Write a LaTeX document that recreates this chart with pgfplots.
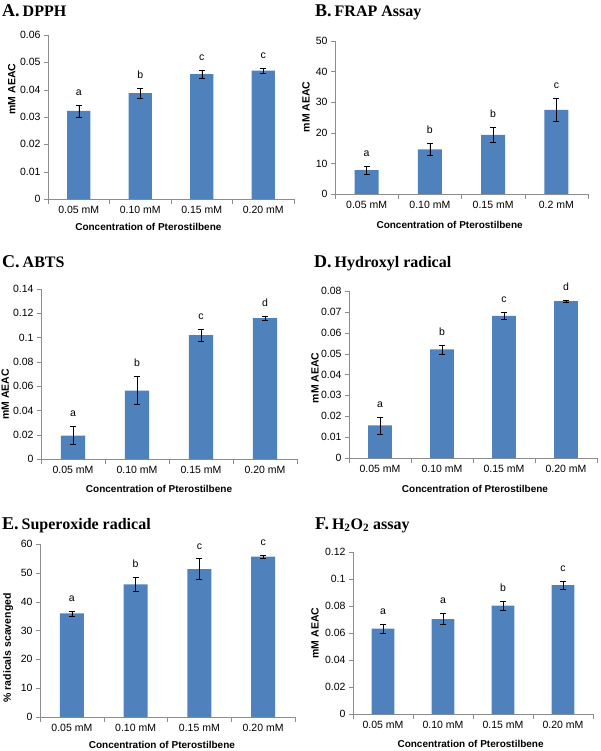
\documentclass[border=0pt]{standalone}
\usepackage{pgfplots}
\pgfplotsset{compat=1.18}
\usepackage{fontspec}
\setmainfont{Liberation Sans}
\newfontfamily\titlefont{Liberation Serif}
\definecolor{barblue}{HTML}{4F81BD}
\definecolor{axgray}{HTML}{8C8C8C}

\pgfplotsset{
  exc/.style={
    scale only axis, anchor=south west,
    ybar, bar width=0.38,
    xmin=-0.5, xmax=3.5, ymin=0, enlarge y limits=false,
    axis x line=bottom, axis y line=left,
    axis line style={-, draw=axgray},
    xtick={0,1,2,3},
    major x tick style={draw=none},
    minor xtick={-0.5,0.5,1.5,2.5,3.5},
    minor x tick style={draw=axgray},
    y tick style={draw=axgray},
    minor tick length=5pt, major tick length=4pt,
    tick align=outside,
    tick label style={font=\fontsize{10.5}{12}\selectfont},
    yticklabel style={/pgf/number format/fixed, /pgf/number format/precision=2,
      /pgf/number format/assume math mode=true},
    scaled y ticks=false,
    xlabel={Concentration of Pterostilbene},
    xlabel style={font=\bfseries\fontsize{10}{12}\selectfont, anchor=center},
    ylabel style={font=\bfseries\fontsize{10.5}{12}\selectfont, anchor=center},
    nodes near coords, point meta=explicit symbolic,
    nodes near coords style={anchor=south, yshift=6pt, font=\fontsize{10.5}{12}\selectfont,
      shift={(axis direction cs:0,\err)}},
  },
  bars/.style={fill=barblue, draw=none,
    visualization depends on={\thisrow{e}\as\err},
    error bars/.cd, y dir=both, y explicit,
    error bar style={black, line width=0.5pt},
    error mark options={rotate=90, mark size=3pt, black, line width=0.5pt}},
}

\newcommand{\ptitle}[2]{{\titlefont\bfseries\fontsize{18}{20}\selectfont #1\hspace{3pt}\fontsize{16}{18}\selectfont #2}}

\begin{document}
\begin{tikzpicture}
\path[use as bounding box] (0pt,0pt) rectangle (600pt,-751pt);

% A. DPPH
\node[anchor=base west, inner sep=0pt] at (2pt,-17pt) {\ptitle{A.}{DPPH}};
\begin{axis}[exc, at={(48pt,-199pt)}, width=246pt, height=164pt,
  ymax=0.06, ytick={0,0.01,0.02,0.03,0.04,0.05,0.06},
  xticklabels={0.05 mM,0.10 mM,0.15 mM,0.20 mM},
  ylabel={mM AEAC},
  ylabel style={at={(axis description cs:-0.147,0.67)}},
  xlabel style={at={(axis description cs:0.408,-0.171)}}]
\addplot[bars] table[x=x, y=y, y error=e, meta=l] {
x y e l
0 0.0322 0.0022 a
1 0.0387 0.0019 b
2 0.0457 0.0014 c
3 0.0470 0.0010 c
};
\end{axis}

% B. FRAP
\node[anchor=base west, inner sep=0pt] at (315pt,-17pt) {\ptitle{B.}{FRAP Assay}};
\begin{axis}[exc, at={(335pt,-194pt)}, width=253pt, height=153pt,
  ymax=50, ytick={0,10,20,30,40,50},
  xticklabels={0.05 mM,0.10 mM,0.15 mM,0.2 mM},
  ylabel={mM AEAC},
  ylabel style={at={(axis description cs:-0.115,0.57)}},
  xlabel style={at={(axis description cs:0.453,-0.203)}}]
\addplot[bars] table[x=x, y=y, y error=e, meta=l] {
x y e l
0 7.8 1.3 a
1 14.6 1.9 b
2 19.3 2.5 b
3 27.5 3.8 c
};
\end{axis}

% C. ABTS
\node[anchor=base west, inner sep=0pt] at (2pt,-267pt) {\ptitle{C.}{ABTS}};
\begin{axis}[exc, at={(41pt,-459pt)}, width=256pt, height=170pt,
  ymax=0.14, ytick={0,0.02,0.04,0.06,0.08,0.1,0.12,0.14},
  xticklabels={0.05 mM,0.10 mM,0.15 mM,0.20 mM},
  ylabel={mM AEAC},
  ylabel style={at={(axis description cs:-0.14,0.38)}},
  xlabel style={at={(axis description cs:0.461,-0.176)}}]
\addplot[bars] table[x=x, y=y, y error=e, meta=l] {
x y e l
0 0.0193 0.0074 a
1 0.0564 0.0115 b
2 0.1020 0.0047 c
3 0.1160 0.0018 d
};
\end{axis}

% D. Hydroxyl radical
\node[anchor=base west, inner sep=0pt] at (314pt,-267pt) {\ptitle{D.}{Hydroxyl radical}};
\begin{axis}[exc, at={(349pt,-458pt)}, width=248pt, height=167pt,
  ymax=0.08, ytick={0,0.01,0.02,0.03,0.04,0.05,0.06,0.07,0.08},
  xticklabels={0.05 mM,0.10 mM,0.15 mM,0.20 mM},
  ylabel={mM AEAC},
  ylabel style={at={(axis description cs:-0.137,0.48)}},
  xlabel style={at={(axis description cs:0.508,-0.186)}}]
\addplot[bars] table[x=x, y=y, y error=e, meta=l] {
x y e l
0 0.0156 0.0040 a
1 0.0520 0.0022 b
2 0.0681 0.0017 c
3 0.0751 0.0007 d
};
\end{axis}

% E. Superoxide radical
\node[anchor=base west, inner sep=0pt] at (2pt,-529pt) {\ptitle{E.}{Superoxide radical}};
\begin{axis}[exc, at={(40pt,-717pt)}, width=255pt, height=173pt,
  ymax=60, ytick={0,10,20,30,40,50,60},
  xticklabels={0.05 mM,0.10 mM,0.15 mM,0.20 mM},
  ylabel={\% radicals scavenged},
  ylabel style={at={(axis description cs:-0.125,0.40)}},
  xlabel style={at={(axis description cs:0.478,-0.160)}}]
\addplot[bars] table[x=x, y=y, y error=e, meta=l] {
x y e l
0 35.9 0.8 a
1 46.0 2.5 b
2 51.3 3.6 c
3 55.6 0.5 c
};
\end{axis}

% F. H2O2 assay
\node[anchor=base west, inner sep=0pt] at (315pt,-529pt) {\ptitle{F.}{H\textsubscript{2}O\textsubscript{2} assay}};
\begin{axis}[exc, at={(353pt,-714pt)}, width=240pt, height=162pt,
  ymax=0.12, ytick={0,0.02,0.04,0.06,0.08,0.1,0.12},
  xticklabels={0.05 mM,0.10 mM,0.15 mM,0.20 mM},
  ylabel={mM AEAC},
  ylabel style={at={(axis description cs:-0.158,0.50)}},
  xlabel style={at={(axis description cs:0.49,-0.184)}}]
\addplot[bars] table[x=x, y=y, y error=e, meta=l] {
x y e l
0 0.0632 0.0036 a
1 0.0703 0.0041 a
2 0.0802 0.0036 b
3 0.0954 0.0027 c
};
\end{axis}
\end{tikzpicture}
\end{document}
